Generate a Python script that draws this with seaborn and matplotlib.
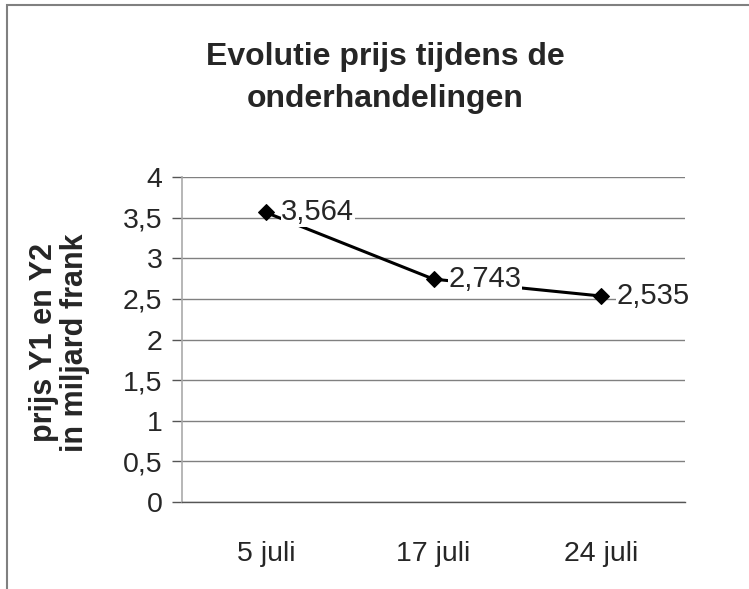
import matplotlib
matplotlib.use("Agg")
import matplotlib.pyplot as plt
from matplotlib.patches import Rectangle
from matplotlib.ticker import FuncFormatter, FixedLocator
import seaborn as sns
import pandas as pd

# --- Data ---
datums = ["5 juli", "17 juli", "24 juli"]
prijzen = [3.564, 2.743, 2.535]
y_ticks = [0, 0.5, 1, 1.5, 2, 2.5, 3, 3.5, 4]

df = pd.DataFrame({"datum": datums, "prijs": prijzen})

sns.set_style("white")
plt.rcParams["font.family"] = ["Liberation Sans", "DejaVu Sans"]

fig = plt.figure(figsize=(7.49, 5.89), dpi=100)
ax = fig.add_axes([182 / 749, 1 - 502 / 589, (685 - 182) / 749, (502 - 177) / 589])

sns.lineplot(data=df, x="datum", y="prijs", ax=ax, color="black", linewidth=2.2,
             marker="D", markersize=8, markeredgecolor="black", sort=False, zorder=3)

# data labels met komma
for i, v in enumerate(prijzen):
    ax.annotate(f"{v:.3f}".replace(".", ","), (i, v), xytext=(11, 0),
                textcoords="offset points", ha="left", va="center", fontsize=21,
                bbox=dict(facecolor="white", edgecolor="none", pad=0.5), zorder=4)

ax.set_xlim(-0.5, 2.5)
ax.set_ylim(0, 4)
ax.set_yticks(y_ticks)
ax.yaxis.set_major_formatter(FuncFormatter(lambda v, p: f"{v:g}".replace(".", ",")))
ax.grid(axis="y", color="#808080", linewidth=1)
ax.set_axisbelow(True)

ax.xaxis.set_minor_locator(FixedLocator([-0.5, 0.5, 1.5, 2.5]))
ax.tick_params(axis="x", which="major", length=0, pad=28, labelsize=20.5)
ax.tick_params(axis="x", which="minor", length=7, width=1, color="#555555", direction="out")
ax.tick_params(axis="y", length=7, width=1, color="#555555", direction="out", pad=7,
               labelsize=20.5, left=True)

for s in ["top", "right"]:
    ax.spines[s].set_visible(False)
ax.spines["left"].set_color("#aaaaaa")
ax.spines["left"].set_linewidth(1.2)
ax.spines["bottom"].set_color("#555555")
ax.spines["bottom"].set_linewidth(1)

ax.set_xlabel("")
ax.set_ylabel("prijs Y1 en Y2\nin miljard frank", fontsize=22, fontweight="bold",
              linespacing=1.05)
ax.yaxis.set_label_coords(-0.183, 0.49)

fig.text(385 / 749, 1 - 78 / 589, "Evolutie prijs tijdens de\nonderhandelingen",
         ha="center", va="center", fontsize=23, fontweight="bold", linespacing=1.55)

# kader rond de grafiek
fig.patches.append(Rectangle((7 / 749, -0.1), 1.2, 0.1 + 1 - 5 / 589, transform=fig.transFigure,
                             fill=False, edgecolor="#808080", linewidth=1.5))

fig.savefig("out.png", dpi=100)
